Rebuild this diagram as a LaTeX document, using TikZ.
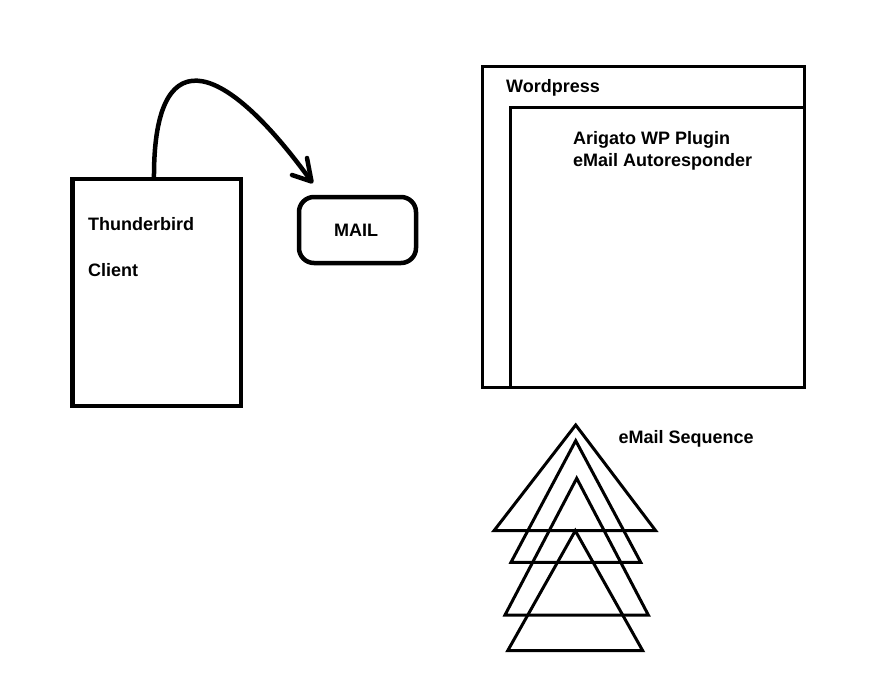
\documentclass[tikz,border=0pt]{standalone}
\usepackage{fontspec}
\usetikzlibrary{calc}
\setmainfont{Liberation Sans}
\begin{document}
\begin{tikzpicture}[x=1pt,y=-1pt,
  lbl/.style={anchor=base west,inner sep=0pt,font=\fontsize{18}{20}\selectfont\bfseries},
  thick4/.style={line width=4.5pt},
  thin3/.style={line width=3pt},
  box/.style={draw,inner sep=0pt,outer sep=0pt,anchor=north west},
  tri/.style={line width=3pt,line join=miter}]
\useasboundingbox[fill=white] (0,0) rectangle (885,682);
% Thunderbird client box
\node[box,thick4,minimum width=168.5pt,minimum height=227pt] (tb) at (72.5,179) {};
\node[lbl] (tbt) at (88,230.7) {Thunderbird};
\node[lbl] (tbc) at (88,276.7) {Client};
% MAIL box
\node[box,thick4,rounded corners=15pt,minimum width=117pt,minimum height=66pt] (mail) at (299,197) {};
\node[lbl,anchor=base] (mailt) at (356,236) {MAIL};
% curved arrow
\coordinate (tip) at (311.5,181.5);
\coordinate (start) at ($(tb.north west)+(81.5,0)$);
\draw[thick4] (start) .. controls ($(start)+(-1,-136)$) and (218,52) .. (tip);
\draw[thick4,line cap=round,line join=round] ($(tip)+(-4.5,-23.5)$) -- (tip) -- ($(tip)+(-19.5,-6.5)$);
% Wordpress box
\node[box,thin3,minimum width=322pt,minimum height=321pt] (wp) at (482.5,66.5) {};
\coordinate (inTL) at (510.5,108);
\draw[thin3] (inTL -| wp.east) -- (inTL) -- (inTL |- wp.south);
\node[lbl] (wpt) at (506,92.3) {Wordpress};
\node[lbl] (ar1) at (573,144.3) {Arigato WP Plugin};
\node[lbl] (ar2) at (573,166) {eMail Autoresponder};
% eMail sequence
\node[lbl] (seq) at (618.3,443.3) {eMail Sequence};
\draw[tri] (575.7,425) -- (655.7,530.7) -- (494,530.7) -- cycle;
\draw[tri] (575.7,440.7) -- (640.7,562.3) -- (511,562.3) -- cycle;
\draw[tri] (576.7,478.3) -- (648.3,615) -- (505,615) -- cycle;
\draw[tri] (575.3,530.7) -- (642.7,650.7) -- (507.7,650.7) -- cycle;
\end{tikzpicture}
\end{document}
